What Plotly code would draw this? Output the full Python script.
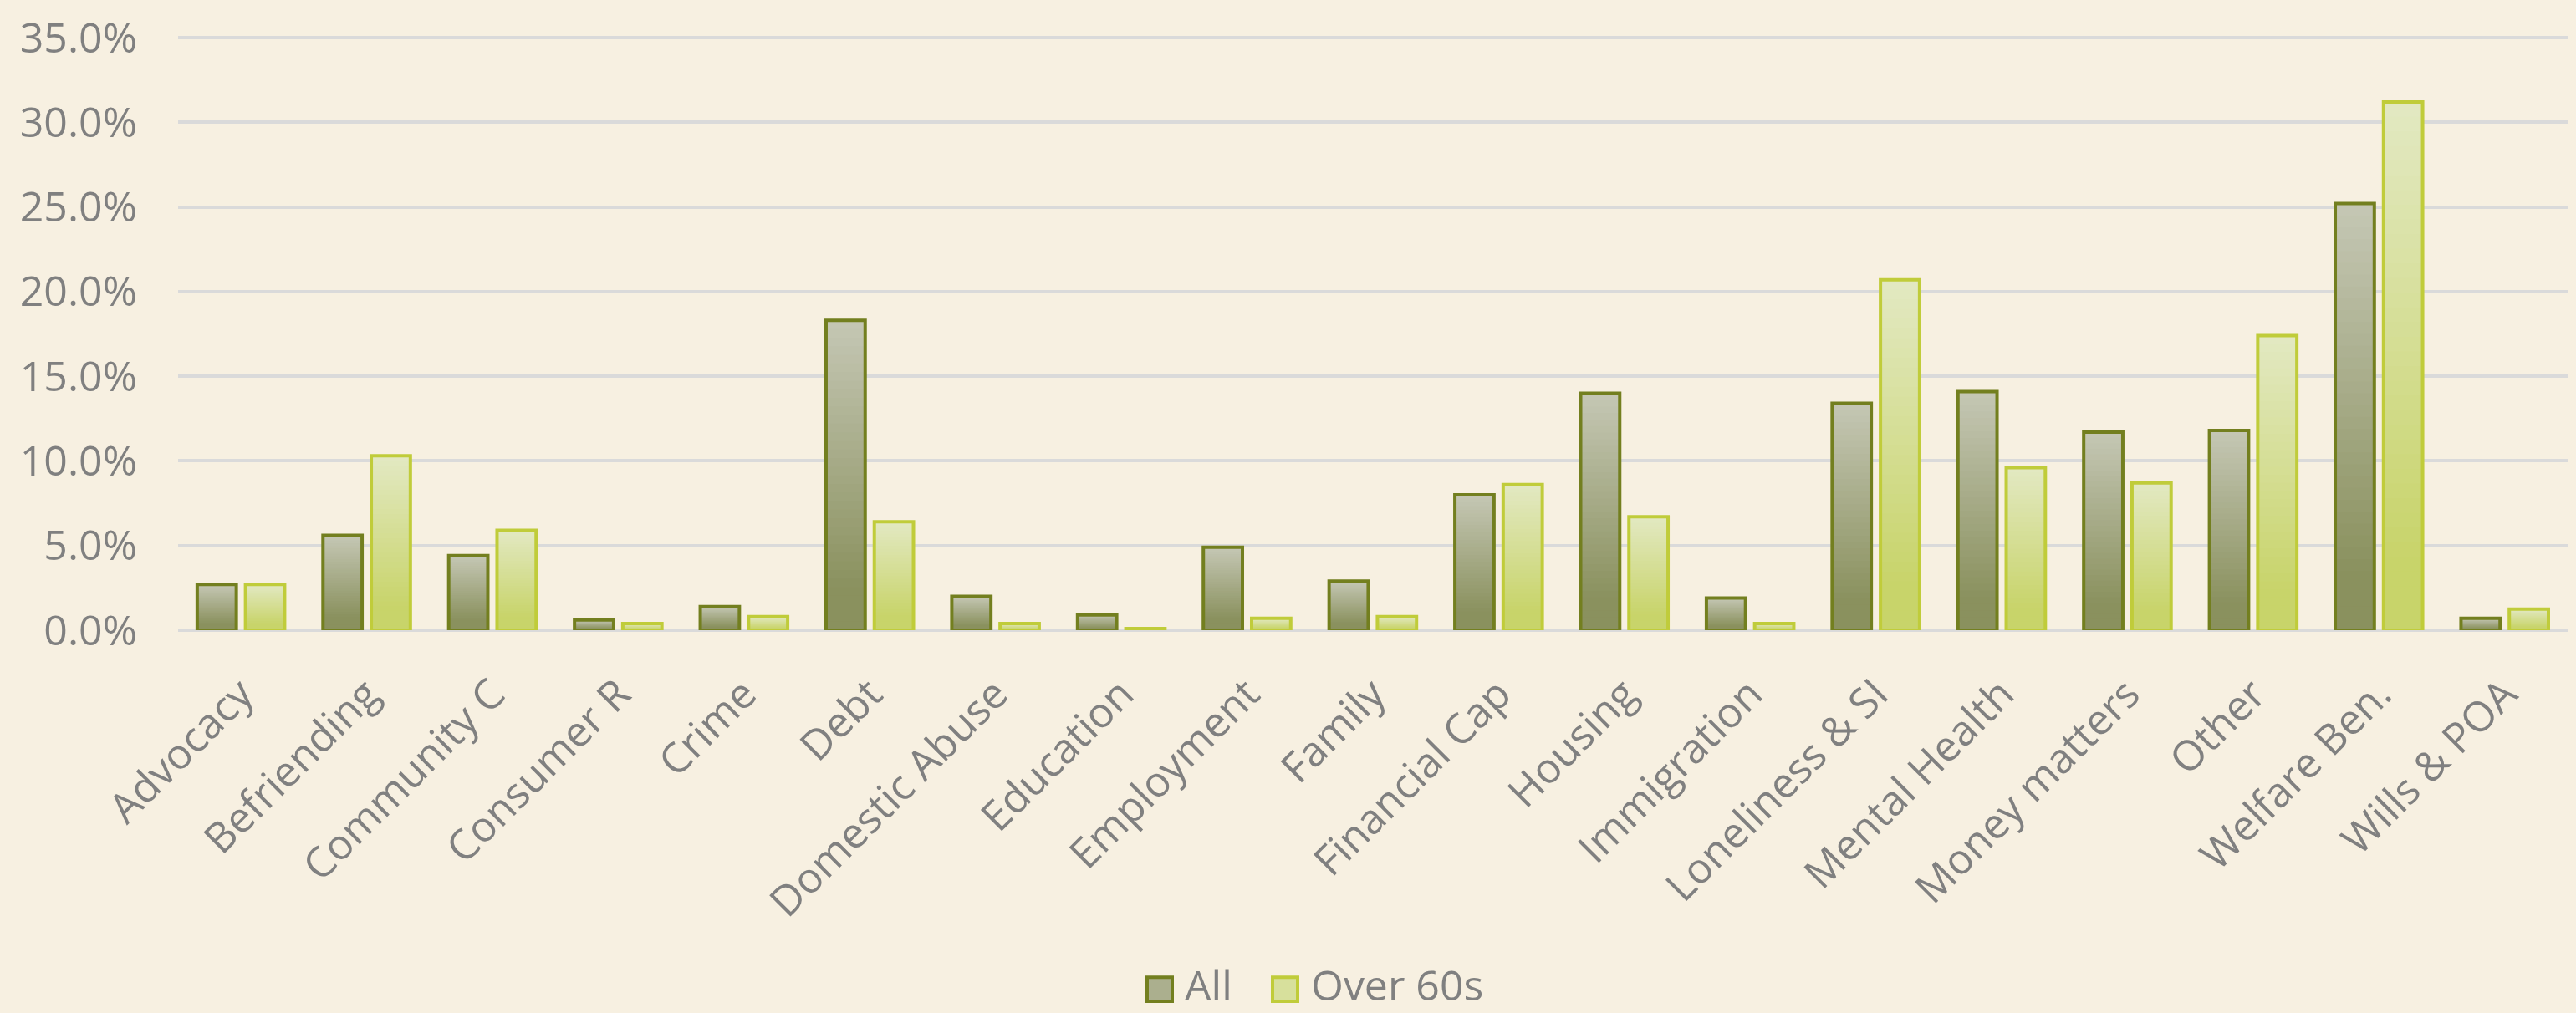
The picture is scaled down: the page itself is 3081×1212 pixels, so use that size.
import plotly.graph_objects as go

categories = ["Advocacy", "Befriending", "Community C", "Consumer R", "Crime", "Debt",
              "Domestic Abuse", "Education", "Employment", "Family", "Financial Cap",
              "Housing", "Immigration", "Loneliness & SI", "Mental Health",
              "Money matters", "Other", "Welfare Ben.", "Wills & POA"]
all_vals = [2.7, 5.6, 4.4, 0.6, 1.4, 18.3, 2.0, 0.9, 4.9, 2.9, 8.0,
            14.0, 1.9, 13.4, 14.1, 11.7, 11.8, 25.2, 0.7]
over60_vals = [2.7, 10.3, 5.9, 0.4, 0.8, 6.4, 0.4, 0.1, 0.7, 0.8, 8.6,
               6.7, 0.4, 20.7, 9.6, 8.7, 17.4, 31.2, 1.25]
series_names = ["All", "Over 60s"]
y_ticks = [0, 5, 10, 15, 20, 25, 30, 35]

BG = "#f7f0e1"
TXT = "#808080"
FONT = "Open Sans"

styles = [
    dict(vals=all_vals, offset=-0.348, top=(198, 200, 182), bottom=(138, 145, 94), edge="#737f1f"),
    dict(vals=over60_vals, offset=0.036, top=(227, 233, 196), bottom=(200, 212, 106), edge="#c0cc3a"),
]
BAR_W = 0.311
N = 36


def lerp(c1, c2, f):
    return "rgb(%d,%d,%d)" % tuple(round(a + (b - a) * f) for a, b in zip(c1, c2))


fig = go.Figure()
for name, st in zip(series_names, styles):
    vals = st["vals"]
    for k in range(N):
        t = k / N
        f = min(max((t - 0.12) / 0.88, 0.0), 1.0)
        col = lerp(st["bottom"], st["top"], f)
        fig.add_trace(go.Bar(
            x=categories, y=[v * (1 - t) for v in vals], base=[v * t for v in vals],
            width=BAR_W, offset=st["offset"],
            marker=dict(color=col, line=dict(width=0)),
            showlegend=False, hoverinfo="skip"))
    fig.add_trace(go.Bar(
        x=categories, y=vals, width=BAR_W, offset=st["offset"], name=name,
        marker=dict(color="rgba(0,0,0,0)", line=dict(color=st["edge"], width=4)),
        showlegend=False))

# manual legend (large swatches like the original)
PL, PR, PT, PB = 213, 3071, 35, 754
def px(x):
    return (x - PL) / (PR - PL)
def py(y):
    return (PB - y) / (PB - PT)

legend_items = [
    (series_names[0], 1372, 1415, styles[0]),
    (series_names[1], 1522, 1566, styles[1]),
]
for name, sx, tx, st in legend_items:
    fig.add_shape(type="rect", xref="paper", yref="paper",
                  x0=px(sx), x1=px(sx + 30), y0=py(1203), y1=py(1174),
                  fillcolor=lerp(st["bottom"], st["top"], 0.55),
                  line=dict(color=st["edge"], width=4))
    fig.add_annotation(x=px(tx), y=py(1183), xref="paper", yref="paper",
                       text=name, showarrow=False, xanchor="left", yanchor="middle",
                       font=dict(family=FONT, size=50, color=TXT))

fig.update_layout(
    width=3081, height=1212,
    margin=dict(l=PL, r=3081 - PR, t=PT, b=1212 - PB),
    paper_bgcolor=BG, plot_bgcolor=BG,
    barmode="overlay",
    showlegend=False,
    font=dict(family=FONT, size=50, color=TXT),
)
fig.update_xaxes(type="category", range=[-0.5, 18.5], tickangle=-45,
                 showgrid=False, showline=False, zeroline=False, ticks="",
                 tickfont=dict(family=FONT, size=50, color=TXT), ticklabelstandoff=36)
fig.update_yaxes(range=[0, 35.1], tickvals=y_ticks, ticktext=["%.1f%%" % v for v in y_ticks],
                 showgrid=True, gridcolor="#dadada", gridwidth=4,
                 zeroline=True, zerolinecolor="#dadada", zerolinewidth=4,
                 showline=False, ticks="", ticklabelstandoff=48,
                 tickfont=dict(family=FONT, size=50, color=TXT))

fig.write_html("out.html")
